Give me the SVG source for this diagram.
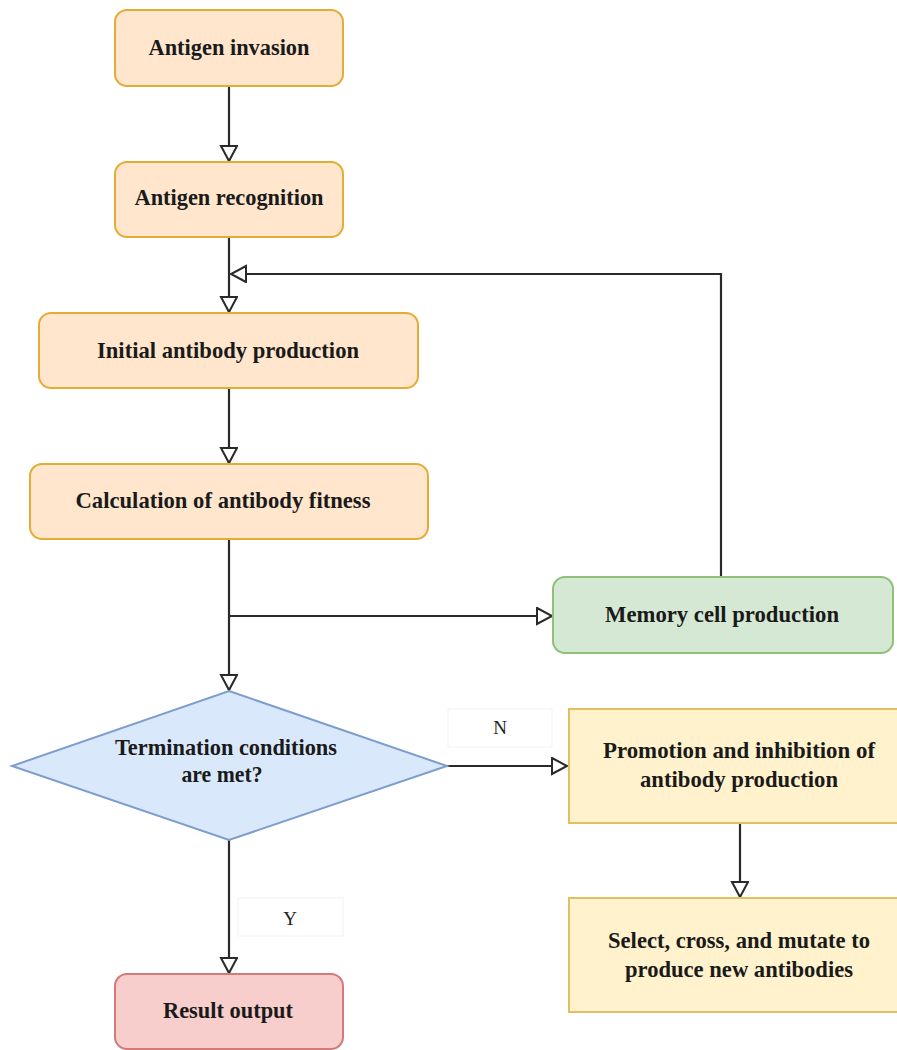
<svg xmlns="http://www.w3.org/2000/svg" width="897" height="1050" viewBox="0 0 897 1050">
<style>
.t{font-family:"Liberation Serif","Times New Roman",serif;font-weight:bold;font-size:23px;fill:#1a1a1a;text-anchor:middle}
.l{font-family:"Liberation Serif","Times New Roman",serif;font-size:19px;fill:#222;text-anchor:middle}
.or{fill:#ffe6cc;stroke:#e3ad35;stroke-width:2}
.gr{fill:#d5e8d4;stroke:#8fc07a;stroke-width:2}
.bl{fill:#dae8fc;stroke:#7d9dcc;stroke-width:2}
.ye{fill:#fff2cc;stroke:#e0c060;stroke-width:2}
.re{fill:#f8cecc;stroke:#d47a78;stroke-width:2}
.lb{fill:#fff;stroke:#f2f2f2;stroke-width:1}
.c{fill:none;stroke:#2a2a2a;stroke-width:2.2}
</style>
<defs>
<marker id="ah" markerUnits="userSpaceOnUse" markerWidth="20" markerHeight="20" refX="16" refY="9" orient="auto">
<path d="M1,1 L16,9 L1,17 Z" fill="#fff" stroke="#2a2a2a" stroke-width="2"/>
</marker>
</defs>
<rect width="897" height="1050" fill="#fff"/>
<g id="connectors">
<path class="c" d="M229,86 V161" marker-end="url(#ah)"/>
<path class="c" d="M229,237 V312" marker-end="url(#ah)"/>
<path class="c" d="M721,577 V274 H231" marker-end="url(#ah)"/>
<path class="c" d="M229,388 V463" marker-end="url(#ah)"/>
<path class="c" d="M229,539 V690" marker-end="url(#ah)"/>
<path class="c" d="M229,616 H552" marker-end="url(#ah)"/>
<path class="c" d="M447,766 H567" marker-end="url(#ah)"/>
<path class="c" d="M740,823 V897" marker-end="url(#ah)"/>
<path class="c" d="M229,840 V973" marker-end="url(#ah)"/>
</g>
<g id="label-n">
<rect class="lb" x="448" y="709" width="104" height="38"/>
<text class="l" x="500" y="734">N</text>
</g>
<g id="label-y">
<rect class="lb" x="238" y="898" width="105" height="38"/>
<text class="l" x="290" y="925">Y</text>
</g>
<g id="antigen-invasion">
<rect class="or" x="115" y="10" width="228" height="76" rx="12"/>
<text class="t" x="229" y="55" textLength="161" lengthAdjust="spacingAndGlyphs">Antigen invasion</text>
</g>
<g id="antigen-recognition">
<rect class="or" x="115" y="162" width="228" height="75" rx="12"/>
<text class="t" x="229" y="205" textLength="189" lengthAdjust="spacingAndGlyphs">Antigen recognition</text>
</g>
<g id="initial-antibody">
<rect class="or" x="39" y="313" width="379" height="75" rx="12"/>
<text class="t" x="228" y="358" textLength="262" lengthAdjust="spacingAndGlyphs">Initial antibody production</text>
</g>
<g id="fitness">
<rect class="or" x="30" y="464" width="398" height="75" rx="12"/>
<text class="t" x="223" y="508" textLength="295" lengthAdjust="spacingAndGlyphs">Calculation of antibody fitness</text>
</g>
<g id="memory-cell">
<rect class="gr" x="553" y="577" width="340" height="76" rx="12"/>
<text class="t" x="722" y="622" textLength="234" lengthAdjust="spacingAndGlyphs">Memory cell production</text>
</g>
<g id="termination">
<polygon class="bl" points="229,691 447,766 229,840 12,766"/>
<text class="t" x="226" y="755" textLength="222" lengthAdjust="spacingAndGlyphs">Termination conditions</text>
<text class="t" x="222" y="782" textLength="81" lengthAdjust="spacingAndGlyphs">are met?</text>
</g>
<g id="promotion">
<rect class="ye" x="569" y="709" width="342" height="114"/>
<text class="t" x="739" y="758" textLength="272" lengthAdjust="spacingAndGlyphs">Promotion and inhibition of</text>
<text class="t" x="739" y="787" textLength="198" lengthAdjust="spacingAndGlyphs">antibody production</text>
</g>
<g id="select">
<rect class="ye" x="569" y="898" width="342" height="114"/>
<text class="t" x="739" y="948" textLength="262" lengthAdjust="spacingAndGlyphs">Select, cross, and mutate to</text>
<text class="t" x="739" y="977" textLength="228" lengthAdjust="spacingAndGlyphs">produce new antibodies</text>
</g>
<g id="result">
<rect class="re" x="115" y="974" width="228" height="75" rx="12"/>
<text class="t" x="228" y="1018" textLength="130" lengthAdjust="spacingAndGlyphs">Result output</text>
</g>
</svg>
